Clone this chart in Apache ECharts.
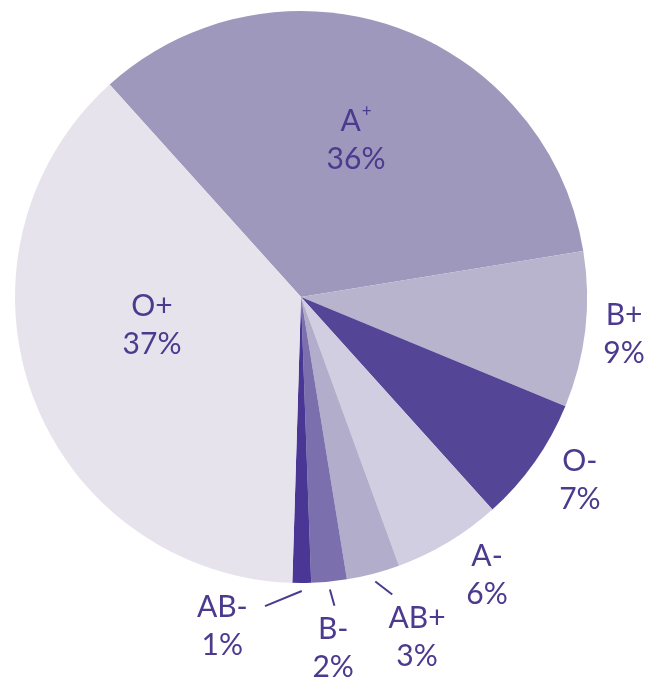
<!DOCTYPE html>
<html>
<head>
<meta charset="utf-8">
<script src="https://cdn.jsdelivr.net/npm/echarts@6/dist/echarts.min.js"></script>
<style>
    html, body { margin: 0; padding: 0; background: #fff; }
    #blood-pie { width: 662px; height: 677px; }
</style>
</head>
<body>
<div id="blood-pie"></div>
<script>
// ------------------------------
// Data
// ------------------------------
var bloodTypes = ['A+', 'B+', 'O-', 'A-', 'AB+', 'B-', 'AB-', 'O+'];
var sliceShares = [34.1, 8.8, 7.1, 6.1, 3.0, 2.0, 1.05, 37.85];
var percentLabels = ['36%', '9%', '7%', '6%', '3%', '2%', '1%', '37%'];

// ------------------------------
// Look
// ------------------------------
var sliceColors = ['#9e98bd', '#b8b4ce', '#554597', '#d0cee0', '#b2adca', '#7b70ad', '#4a3694', '#e6e3ec'];
var textColor = '#4b3a8e';
var cx = 301, cy = 297, R = 286, startAngle = 132;

// label spot: [distance as share of radius, turn from slice middle in degrees]
var labelSpots = [[0.58, 0], [1.137, 0], [1.167, 1.9], [1.172, 2.7], [1.256, 4.2], [1.232, -0.4], [1.183, -13.6], [0.53, -9.5]];
// where the short leader lines end (same units), only for the thin slices
var leaderEnds = [null, null, null, null, [1.095, 2.3], [1.093, 0.5], [1.095, -6.75], null];

var total = sliceShares.reduce(function (a, b) { return a + b; }, 0);
var midAngles = [];
var acc = 0;
sliceShares.forEach(function (v) {
    midAngles.push(startAngle - 360 * (acc + v / 2) / total);
    acc += v;
});

function spot(i, s) {
    var a = (midAngles[i] + s[1]) * Math.PI / 180;
    return { x: cx + s[0] * R * Math.cos(a), y: cy - s[0] * R * Math.sin(a) };
}

var pieChart = echarts.init(document.getElementById('blood-pie'));

var option = {
    animation: false,
    textStyle: { fontFamily: 'Lato' },

    series: [
        {
            name: 'Blood types',
            type: 'pie',
            center: [cx, cy],
            radius: R,
            startAngle: startAngle,
            clockwise: true,
            avoidLabelOverlap: false,
            emphasis: { disabled: true },
            label: {
                show: true,
                position: 'outside',
                color: textColor,
                fontFamily: 'Lato',
                fontSize: 30,
                lineHeight: 38,
                formatter: function (p) {
                    var pct = percentLabels[p.dataIndex];
                    if (p.name === 'A+') {
                        return '{n|A}{s|+}\n{n|' + pct + '}';
                    }
                    return '{n|' + p.name + '}\n{n|' + pct + '}';
                },
                rich: {
                    n: { color: textColor, fontFamily: 'Lato', fontSize: 30, lineHeight: 38 },
                    s: { color: textColor, fontFamily: 'Lato', fontSize: 17, lineHeight: 38, verticalAlign: 'top', padding: [0, 0, 12, 1] }
                }
            },
            labelLine: { show: false },
            labelLayout: function (p) {
                var pt = spot(p.dataIndex, labelSpots[p.dataIndex]);
                return { x: pt.x, y: pt.y, align: 'center', verticalAlign: 'middle' };
            },
            data: bloodTypes.map(function (name, i) {
                return { name: name, value: sliceShares[i], itemStyle: { color: sliceColors[i] } };
            })
        },
        {
            // invisible copy, only carries the short leader lines
            name: 'Leaders',
            type: 'pie',
            center: [cx, cy],
            radius: R + 8,
            startAngle: startAngle,
            clockwise: true,
            silent: true,
            avoidLabelOverlap: false,
            emphasis: { disabled: true },
            itemStyle: { color: 'rgba(0,0,0,0)' },
            label: { show: false, position: 'outside', formatter: ' ', fontSize: 4 },
            labelLine: { show: true, length: 10, length2: 0, lineStyle: { color: textColor, width: 2 } },
            labelLayout: function (p) {
                var end = leaderEnds[p.dataIndex];
                if (!end) return {};
                var pt = spot(p.dataIndex, end);
                return { x: pt.x, y: pt.y, align: 'center', verticalAlign: 'middle' };
            },
            data: bloodTypes.map(function (name, i) {
                return { name: name, value: sliceShares[i], label: { show: !!leaderEnds[i] }, labelLine: { show: !!leaderEnds[i] } };
            })
        }
    ]
};

pieChart.setOption(option);
</script>
</body>
</html>
